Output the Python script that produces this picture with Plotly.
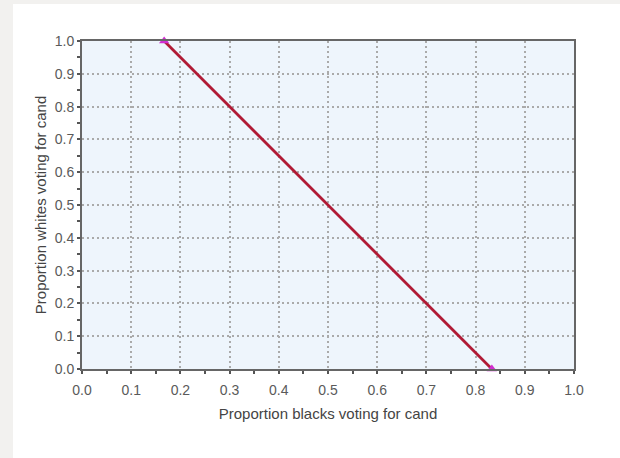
import plotly.graph_objects as go

x_vals = [0.167, 0.833]
y_vals = [1.0, 0.0]
tick_vals = [0.0, 0.1, 0.2, 0.3, 0.4, 0.5, 0.6, 0.7, 0.8, 0.9, 1.0]
tick_text = ["0.0", "0.1", "0.2", "0.3", "0.4", "0.5", "0.6", "0.7", "0.8", "0.9", "1.0"]
x_title = "Proportion blacks voting for cand"
y_title = "Proportion whites voting for cand"

FONT = "Liberation Sans, Arial"

fig = go.Figure()
fig.add_trace(go.Scatter(
    x=x_vals, y=y_vals, mode="lines",
    line=dict(color="#b01a35", width=2.8),
    showlegend=False, cliponaxis=False,
))
fig.add_trace(go.Scatter(
    x=x_vals, y=y_vals, mode="markers",
    marker=dict(color="#d02fd0", size=9, symbol="triangle-up"),
    showlegend=False, cliponaxis=False,
))

axis_common = dict(
    range=[0, 1], tickvals=tick_vals, ticktext=tick_text,
    showgrid=True, gridcolor="#aaaaaa", griddash="2px,3px", gridwidth=1.5,
    showline=True, linecolor="#666666", linewidth=2, mirror=True,
    ticks="outside", ticklen=3, tickcolor="#555555", tickwidth=2,
    minor=dict(dtick=0.05, ticks="outside", ticklen=3, tickcolor="#555555", tickwidth=2, showgrid=False),
    tickfont=dict(family=FONT, size=14, color="#5a5a5a"),
    zeroline=False, fixedrange=True,
)

fig.update_xaxes(**axis_common, ticklabelstandoff=4,
                 title=dict(text=x_title, font=dict(family=FONT, size=15, color="#444444"), standoff=12))
fig.update_yaxes(**axis_common, ticklabelstandoff=0,
                 title=dict(text=y_title, font=dict(family=FONT, size=15, color="#444444"), standoff=4))

fig.update_layout(
    width=620, height=458,
    margin=dict(l=82, r=46, t=41, b=89),
    paper_bgcolor="white",
    plot_bgcolor="#eef5fc",
    shapes=[
        dict(type="rect", xref="paper", yref="paper",
             x0=-82/492, x1=-69/492, y0=-89/328, y1=1 + 41/328,
             fillcolor="#f2f1ef", line=dict(width=0), layer="below"),
        dict(type="rect", xref="paper", yref="paper",
             x0=-82/492, x1=1 + 46/492, y0=1 + 37/328, y1=1 + 41/328,
             fillcolor="#f2f1ef", line=dict(width=0), layer="below"),
    ],
)

fig.write_html("out.html")
